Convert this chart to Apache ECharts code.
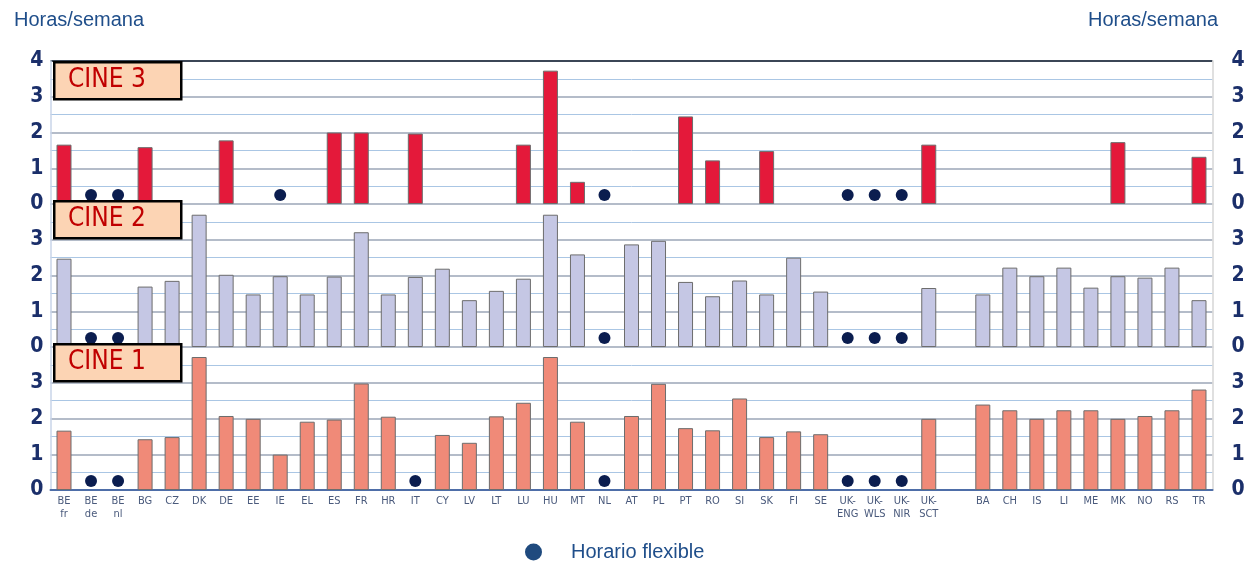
<!DOCTYPE html>
<html><head><meta charset="utf-8">
<script src="https://cdn.jsdelivr.net/npm/echarts@6/dist/echarts.min.js"></script>
<style>html,body{margin:0;padding:0;background:#fff}#c{width:1249px;height:561px}</style>
</head><body><div id="c"></div>
<script>
const categories = ['BE\nfr','BE\nde','BE\nnl','BG','CZ','DK','DE','EE','IE','EL','ES','FR','HR','IT','CY','LV','LT','LU','HU','MT','NL','AT','PL','PT','RO','SI','SK','FI','SE','UK-\nENG','UK-\nWLS','UK-\nNIR','UK-\nSCT','','BA','CH','IS','LI','ME','MK','NO','RS','TR'];
const yTicks = [0,1,2,3,4];
const cine3 = [1.66,null,null,1.59,null,null,1.78,null,null,null,2.0,2.0,null,1.97,null,null,null,1.66,3.73,0.62,null,null,null,2.45,1.22,null,1.48,null,null,null,null,null,1.66,null,null,null,null,null,null,1.73,null,null,1.32];
const cine2 = [2.47,null,null,1.69,1.85,3.70,2.02,1.47,1.98,1.47,1.97,3.21,1.47,1.96,2.19,1.31,1.57,1.91,3.70,2.59,null,2.87,2.97,1.82,1.42,1.86,1.47,2.50,1.55,null,null,null,1.65,null,1.47,2.22,1.98,2.22,1.66,1.98,1.94,2.22,1.31];
const cine1 = [1.66,null,null,1.42,1.48,3.72,2.07,1.99,0.99,1.91,1.97,2.98,2.05,null,1.54,1.32,2.06,2.44,3.72,1.91,null,2.07,2.97,1.73,1.67,2.56,1.48,1.64,1.56,null,null,null,1.99,null,2.39,2.23,1.99,2.23,2.23,1.99,2.07,2.23,2.81];
const flex3 = ['BE\nde','BE\nnl','IE','NL','UK-\nENG','UK-\nWLS','UK-\nNIR'];
const flex2 = ['BE\nde','BE\nnl','NL','UK-\nENG','UK-\nWLS','UK-\nNIR'];
const flex1 = ['BE\nde','BE\nnl','IT','NL','UK-\nENG','UK-\nWLS','UK-\nNIR'];
const panelLabels = ['CINE 3','CINE 2','CINE 1'];
const flexLabel = 'Horario flexible';
const axisTitle = 'Horas/semana';

const NARROW = "'Liberation Sans Narrow','DejaVu Sans Condensed','Arial Narrow',sans-serif";
const SANS = "'Liberation Sans',Arial,sans-serif";
const DOT_Y = 0.25;

const chart = echarts.init(document.getElementById('c'), null, {renderer:'canvas'});
const panels = [
  {data: cine3, flex: flex3, color: '#e4193a', top: 61},
  {data: cine2, flex: flex2, color: '#c5c7e4', top: 204},
  {data: cine1, flex: flex1, color: '#f08a78', top: 347}
];
const H = 143;
const grids = [], xAxes = [], yAxes = [], series = [];
panels.forEach((p, i) => {
  grids.push({left: 50.5, right: 36.5, top: p.top, height: H});
  const bottom = i === 2;
  xAxes.push({
    type: 'category', gridIndex: i, data: categories,
    axisTick: {show: false},
    axisLine: {show: bottom, lineStyle: {color: '#4e6ea8', width: 2}},
    axisLabel: {show: bottom, interval: 0, color: '#4a5a7c', fontSize: 11, lineHeight: 13, fontFamily: NARROW, margin: 5}
  });
  const splitColors = i === 0 ? ['#b4bcc9','#b4bcc9','#b4bcc9','#b4bcc9','#3b4656'] : ['#b4bcc9'];
  const fmt = v => (i > 0 && v === 4) ? '' : (yTicks.includes(v) ? String(v) : '');
  yAxes.push({
    type: 'value', gridIndex: i, min: 0, max: 4, interval: 1, position: 'left',
    axisLine: {show: true, lineStyle: {color: '#c9d5e8', width: 1.5}},
    axisTick: {show: false},
    axisLabel: {formatter: fmt, color: '#1b2f6a', fontSize: 21, fontWeight: 'bold', fontFamily: NARROW, margin: 7},
    splitLine: {show: true, lineStyle: {color: splitColors, width: 2}},
    minorTick: {show: false, splitNumber: 2},
    minorSplitLine: {show: true, lineStyle: {color: '#aac6e4', width: 1}}
  });
  yAxes.push({
    type: 'value', gridIndex: i, min: 0, max: 4, interval: 1, position: 'right',
    axisLine: {show: true, lineStyle: {color: '#d6d6d6', width: 1.5}},
    axisTick: {show: false},
    axisLabel: {formatter: fmt, color: '#1b2f6a', fontSize: 21, fontWeight: 'bold', fontFamily: NARROW, margin: 19},
    splitLine: {show: false}
  });
  series.push({
    type: 'bar', xAxisIndex: i, yAxisIndex: 2*i, data: p.data, barWidth: 15,
    itemStyle: {color: p.color, borderColor: '#6d6d6d', borderWidth: 1},
    silent: true
  });
  series.push({
    type: 'scatter', name: flexLabel, xAxisIndex: i, yAxisIndex: 2*i,
    data: p.flex.map(c => [c, DOT_Y]), symbol: 'circle', symbolSize: 12,
    itemStyle: {color: '#0b1d4f', opacity: 1}, silent: true
  });
});

const graphics = [];
panels.forEach((p, i) => {
  const y0 = p.top - (i === 0 ? 0 : 4);
  graphics.push({
    type: 'rect', left: 53, top: y0, z: 100,
    shape: {x: 0, y: 0, width: 127, height: 37},
    style: {fill: '#fcd4b4', stroke: '#000', lineWidth: 2.5}
  });
  graphics.push({
    type: 'text', left: 68, top: y0 + 6, z: 101,
    style: {text: panelLabels[i], fill: '#c00000', stroke: null, lineWidth: 0, font: '26px ' + NARROW}
  });
});

chart.setOption({
  animation: false,
  title: [
    {text: axisTitle, left: 9, top: 5, textStyle: {color: '#1f4e8a', fontSize: 20, fontWeight: 'normal', fontFamily: SANS}},
    {text: axisTitle, right: 26, top: 5, textStyle: {color: '#1f4e8a', fontSize: 20, fontWeight: 'normal', fontFamily: SANS}}
  ],
  legend: {
    data: [{name: flexLabel, icon: 'circle', itemStyle: {color: '#1f4a7e', opacity: 1}}], left: 520, top: 537,
    itemWidth: 17, itemHeight: 17, itemGap: 10,
    textStyle: {color: '#1f4e8a', fontSize: 20, fontFamily: SANS, padding: [0,0,0,24]}
  },
  grid: grids, xAxis: xAxes, yAxis: yAxes, series: series, graphic: graphics
});
</script></body></html>
